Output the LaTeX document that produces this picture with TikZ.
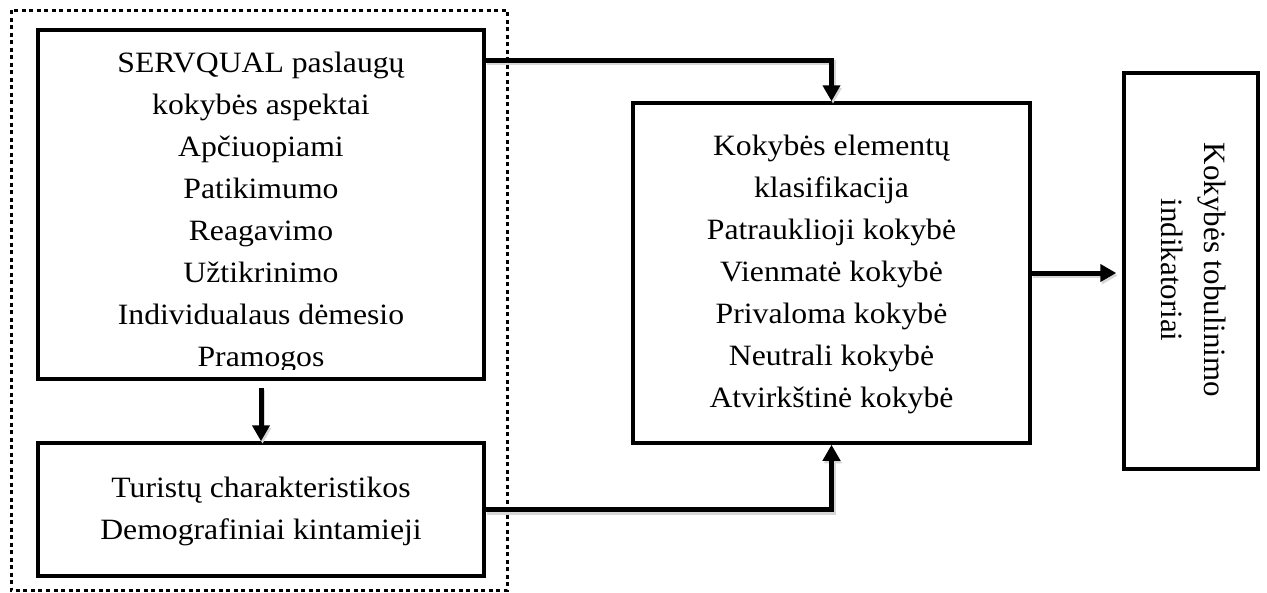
\documentclass[tikz,border=0pt]{standalone}
\usepackage{fontspec}
\setmainfont{Liberation Serif}
\usetikzlibrary{arrows.meta,calc}
\begin{document}
\begin{tikzpicture}[x=1pt,y=1pt,
  box/.style={draw, line width=3.5pt, inner sep=0pt},
  conn/.style={line width=5pt, -{Triangle[length=16pt,width=17pt]},
    preaction={draw=black!16, line width=5pt, transform canvas={shift={(1.5pt,-2.5pt)}}}},
  txt/.style={align=center, font=\fontsize{29.5}{42}\selectfont, xscale=1.075, inner sep=0pt},
  vtxt/.style={align=center, font=\fontsize{31}{43}\selectfont, rotate=-90, inner sep=0pt},
  frame/.style={line width=3pt, dash pattern=on 4pt off 3.5pt}
]
\useasboundingbox (0,0) rectangle (1267,-592);

% dotted grouping frame around the two input blocks
\draw[frame] (11,-10) rectangle (507,-590);

% blocks
\node[box, minimum width=446pt, minimum height=349pt] (b1) at (261,-204.5) {};
\node[box, minimum width=446pt, minimum height=133pt] (b2) at (261,-509.5) {};
\node[box, minimum width=397pt, minimum height=340pt] (b3) at (831.5,-273) {};
\node[box, minimum width=134pt, minimum height=396pt] (b4) at (1191,-271) {};

% block texts (the last line of the first block is cut by its frame)
\begin{scope}
  \clip (b1.north west) rectangle ($(b1.south east)+(0,11)$);
  \node[txt] (t1) at ($(b1.center)+(0,-7.7)$) {SERVQUAL paslaugų\\kokybės aspektai\\Apčiuopiami\\Patikimumo\\Reagavimo\\Užtikrinimo\\Individualaus dėmesio\\Pramogos};
\end{scope}
\node[txt] (t2) at ($(b2.center)+(0,-1.7)$) {Turistų charakteristikos\\Demografiniai kintamieji};
\node[txt] (t3) at ($(b3.center)+(0,-1.2)$) {Kokybės elementų\\klasifikacija\\Patrauklioji kokybė\\Vienmatė kokybė\\Privaloma kokybė\\Neutrali kokybė\\Atvirkštinė kokybė};
\node[vtxt] (t4) at ($(b4.center)+(3,1)$) {Kokybės tobulinimo\\indikatoriai};

% connectors
\coordinate (p1) at ($(b1.north east)+(0,-32)$);
\draw[conn] (p1) -| (b3.north);
\draw[conn] (b2.east) -| (b3.south);
\draw[conn, shorten <=7pt] (b1.south) -- (b2.north);
\draw[conn, shorten >=6pt] (b3.east) -- (b3.east -| b4.west);
\end{tikzpicture}
\end{document}
